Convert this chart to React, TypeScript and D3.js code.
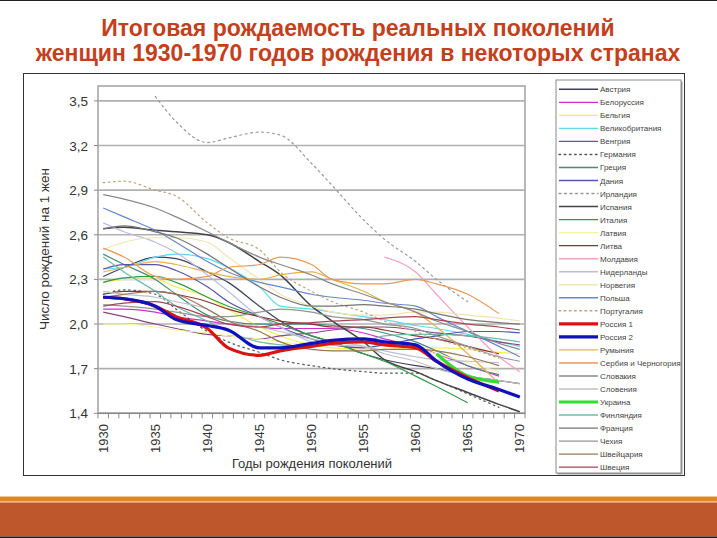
import React from "react";
import * as d3 from "d3";

// ---------- DATA ----------
const CATEGORIES = [
  1930, 1931, 1932, 1933, 1934, 1935, 1936, 1937, 1938, 1939, 1940, 1941, 1942, 1943,
  1944, 1945, 1946, 1947, 1948, 1949, 1950, 1951, 1952, 1953, 1954, 1955, 1956, 1957,
  1958, 1959, 1960, 1961, 1962, 1963, 1964, 1965, 1966, 1967, 1968, 1969, 1970,
];
const X_TICK_LABELS = ["1930", "1935", "1940", "1945", "1950", "1955", "1960", "1965", "1970"];
const Y_TICKS = [1.4, 1.7, 2.0, 2.3, 2.6, 2.9, 3.2, 3.5];
const GRID_YEARS = [1930, 1932, 1935, 1937, 1940, 1942, 1945, 1947, 1950, 1952, 1955, 1957, 1960, 1962, 1965, 1968, 1970];

const N = null;
const AUSTRIA = [2.32, 2.38, 2.45, 2.44, 2.35, 2.28, 2.12, 2.02, 1.92, 1.88, 1.8, 1.76, 1.72, 1.7, 1.65, 1.62, 1.6];
const BELARUS = [2.1, 2.1, 2.08, 2.05, 2.02, 2.0, 1.98, 1.97, 1.97, 1.97, 1.94, 1.9, 1.85, 1.8, 1.72, 1.65, N];
const BELGIUM = [2.28, 2.3, 2.3, 2.25, 2.18, 2.1, 1.98, 1.92, 1.86, 1.84, 1.83, 1.83, 1.84, 1.84, 1.83, 1.81, 1.8];
const UK = [2.37, 2.38, 2.45, 2.47, 2.44, 2.38, 2.25, 2.12, 2.1, 2.08, 2.05, 2.03, 1.99, 1.97, 1.93, 1.88, 1.85];
const HUNGARY = [2.08, 2.05, 2.0, 1.97, 1.93, 1.92, 1.9, 1.92, 1.94, 1.96, 1.98, 1.98, 1.96, 1.94, 1.92, 1.88, 1.86];
const GERMANY = [2.2, 2.23, 2.2, 2.1, 1.95, 1.88, 1.81, 1.76, 1.72, 1.7, 1.68, 1.67, 1.67, 1.62, 1.53, 1.44, N];
const GREECE = [2.47, 2.4, 2.3, 2.2, 2.06, 2.02, 2.0, 2.0, 2.0, 1.99, 1.97, 1.94, 1.88, 1.82, 1.72, 1.66, N];
const DENMARK = [2.37, 2.4, 2.4, 2.36, 2.25, 2.15, 2.05, 1.98, 1.9, 1.86, 1.84, 1.86, 1.9, 1.92, 1.95, 1.95, 1.94];
const IRELAND = [N, N, 3.53, 3.36, 3.22, 3.25, 3.29, 3.27, 3.08, 2.93, 2.7, 2.57, 2.42, 2.3, 2.15, N, N];
const SPAIN = [2.64, 2.65, 2.63, 2.62, 2.6, 2.55, 2.42, 2.33, 2.12, 2.02, 1.88, 1.76, 1.68, 1.62, 1.54, 1.46, 1.41];
const ITALY = [2.28, 2.31, 2.32, 2.28, 2.18, 2.12, 2.05, 2.0, 1.92, 1.88, 1.8, 1.75, 1.65, 1.58, 1.47, N, N];
const LATVIA = [2.0, 2.0, 1.98, 1.96, 1.94, 1.92, 1.9, 1.88, 1.86, 1.88, 1.9, 1.88, 1.84, 1.8, 1.74, 1.68, N];
const LITHUANIA = [2.2, 2.22, 2.22, 2.2, 2.15, 2.1, 2.05, 2.02, 2.0, 1.98, 1.98, 1.96, 1.92, 1.9, 1.85, 1.8, N];
const MOLDOVA = [N, N, N, N, N, N, N, N, N, N, N, 2.45, 2.35, 2.2, 1.98, 1.78, 1.68];
const NETHERLANDS = [2.68, 2.62, 2.55, 2.48, 2.33, 2.22, 2.05, 1.98, 1.88, 1.86, 1.85, 1.82, 1.78, 1.76, 1.75, 1.74, N];
const NORWAY = [2.5, 2.55, 2.58, 2.58, 2.55, 2.45, 2.3, 2.2, 2.12, 2.08, 2.06, 2.06, 2.08, 2.08, 2.06, 2.04, 2.02];
const POLAND = [2.78, 2.72, 2.63, 2.55, 2.42, 2.35, 2.28, 2.25, 2.2, 2.18, 2.16, 2.14, 2.12, 2.05, 1.95, 1.85, 1.78];
const PORTUGAL = [2.95, 2.96, 2.9, 2.86, 2.68, 2.58, 2.5, 2.35, 2.22, 2.15, 2.08, 2.02, 1.95, 1.9, 1.84, 1.77, N];
const RUSSIA1 = [2.18, 2.17, 2.12, 2.05, 1.97, 1.84, 1.79, 1.82, 1.85, 1.87, 1.88, 1.86, 1.84, 1.75, 1.64, 1.55, N];
const RUSSIA2 = [2.18, 2.17, 2.12, 2.03, 1.99, 1.96, 1.84, 1.84, 1.87, 1.89, 1.9, 1.88, 1.86, 1.75, 1.63, 1.56, 1.51];
const ROMANIA = [2.35, 2.38, 2.42, 2.4, 2.35, 2.32, 2.3, 2.33, 2.35, 2.3, 2.22, 2.15, 2.08, 1.98, 1.8, 1.6, N];
const SERBIA = [2.51, 2.45, 2.32, 2.3, 2.32, 2.38, 2.4, 2.45, 2.4, 2.3, 2.27, 2.27, 2.3, 2.27, 2.2, 2.07, N];
const SLOVAKIA = [2.87, 2.84, 2.78, 2.72, 2.62, 2.55, 2.45, 2.4, 2.33, 2.27, 2.2, 2.15, 2.08, 2.02, 1.95, 1.87, 1.83];
const SLOVENIA = [2.22, 2.2, 2.18, 2.15, 2.1, 2.02, 1.98, 1.95, 1.9, 1.88, 1.85, 1.8, 1.75, 1.7, 1.65, 1.62, 1.6];
const UKRAINE = [N, N, N, N, N, N, N, N, N, N, N, N, N, 1.8, 1.65, 1.61, N];
const FINLAND = [2.45, 2.35, 2.22, 2.12, 2.02, 1.95, 1.88, 1.86, 1.85, 1.87, 1.88, 1.92, 1.93, 1.93, 1.92, 1.9, 1.88];
const FRANCE = [2.64, 2.66, 2.62, 2.58, 2.47, 2.38, 2.25, 2.18, 2.12, 2.12, 2.13, 2.12, 2.1, 2.07, 2.03, 2.01, 2.0];
const CZECH = [2.13, 2.12, 2.1, 2.08, 2.05, 2.05, 2.08, 2.1, 2.08, 2.05, 2.03, 2.0, 1.97, 1.92, 1.85, 1.78, 1.75];
const SWITZERLAND = [2.18, 2.2, 2.22, 2.2, 2.1, 2.02, 1.95, 1.88, 1.83, 1.82, 1.82, 1.83, 1.83, 1.82, 1.78, 1.72, N];
const SWEDEN = [2.12, 2.14, 2.15, 2.12, 2.05, 2.0, 1.98, 2.0, 2.01, 2.02, 2.03, 2.04, 2.05, 2.03, 2.0, 1.98, 1.96];

const SERIES_NAMES = [
  "Австрия", "Белоруссия", "Бельгия", "Великобритания", "Венгрия", "Германия", "Греция", "Дания",
  "Ирландия", "Испания", "Италия", "Латвия", "Литва", "Молдавия", "Нидерланды", "Норвегия", "Польша",
  "Португалия", "Россия 1", "Россия 2", "Румыния", "Сербия и Черногория", "Словакия", "Словения",
  "Украина", "Финляндия", "Франция", "Чехия", "Швейцария", "Швеция",
];
const SERIES_VALUES = [
  AUSTRIA, BELARUS, BELGIUM, UK, HUNGARY, GERMANY, GREECE, DENMARK, IRELAND, SPAIN, ITALY, LATVIA,
  LITHUANIA, MOLDOVA, NETHERLANDS, NORWAY, POLAND, PORTUGAL, RUSSIA1, RUSSIA2, ROMANIA, SERBIA,
  SLOVAKIA, SLOVENIA, UKRAINE, FINLAND, FRANCE, CZECH, SWITZERLAND, SWEDEN,
];

// ---------- STYLES ----------
const COLORS = [
  "#3e3e5e", "#cc33cc", "#f2f24a", "#5fd8ea", "#884488", "#555555", "#4a8a7a", "#5555aa",
  "#9a9a9a", "#444444", "#339944", "#f6f4a0", "#883333", "#f5a0bb", "#bcbce0", "#eee6b4", "#6688cc",
  "#c0a070", "#dd1111", "#1111bb", "#e8b050", "#e89858", "#8a8a8a", "#c0c0c0",
  "#33dd33", "#6cbcac", "#747474", "#959595", "#997755", "#aa4455",
];
const DASH: Record<string, string> = {
  "Германия": "1.6 3.6",
  "Ирландия": "2 3.5",
  "Португалия": "1.6 3.6",
};
const WIDTH: Record<string, number> = {
  "Россия 1": 3.2,
  "Россия 2": 3.2,
  "Украина": 3.2,
  "Испания": 1.5,
};
const DRAW_ORDER_LAST = ["Украина", "Россия 1", "Россия 2"];

const FONT = "'Liberation Sans', Arial, sans-serif";

export default function App() {
  const W = 717;
  const H = 538;
  const plot = { left: 98, right: 525, top: 86, bottom: 413.3 };

  const xBand = d3.scaleBand<number>().domain(CATEGORIES).range([plot.left, plot.right]).paddingInner(0).paddingOuter(0);
  const bw = xBand.bandwidth();
  const xPos = (yr: number) => (xBand(yr) as number) + bw / 2;
  const y = d3.scaleLinear().domain([1.4, 3.6]).range([plot.bottom, plot.top]);

  const line = d3
    .line<number | null>()
    .defined((d) => d != null)
    .x((_, i) => xPos(GRID_YEARS[i]))
    .y((d) => y(d as number))
    .curve(d3.curveMonotoneX);

  const order = SERIES_NAMES.map((_, i) => i)
    .filter((i) => !DRAW_ORDER_LAST.includes(SERIES_NAMES[i]))
    .concat(DRAW_ORDER_LAST.map((n) => SERIES_NAMES.indexOf(n)));

  const legend = { x: 556, y: 80, w: 125, h: 393, row0: 89.3, step: 13.03 };

  const boundaries = CATEGORIES.map((c) => xBand(c) as number).concat([plot.right]);

  return (
    <svg width={W} height={H} style={{ position: "absolute", left: 0, top: 0, display: "block" }} fontFamily={FONT}>
      <rect x={0} y={0} width={W} height={H} fill="#ffffff" />
      <rect x={0} y={0} width={W} height={1} fill="#222" />

      {/* title */}
      <text x={358} y={36} textAnchor="middle" fontSize={23} fontWeight="bold" fill="#c4401c">
        Итоговая рождаемость реальных поколений
      </text>
      <text x={358} y={61} textAnchor="middle" fontSize={23} fontWeight="bold" fill="#c4401c">
        женщин 1930-1970 годов рождения в некоторых странах
      </text>

      {/* chart frame */}
      <rect x={23.5} y={73.5} width={661} height={402} fill="#fff" stroke="#333" strokeWidth={1} />

      {/* plot area */}
      <rect x={plot.left} y={plot.top} width={plot.right - plot.left} height={plot.bottom - plot.top} fill="#fff" stroke="#a0a0a0" strokeWidth={1.5} />
      {Y_TICKS.map((t) => (
        <g key={t}>
          {t > 1.4 && (
            <line x1={plot.left} x2={plot.right} y1={y(t)} y2={y(t)} stroke="#b0b0b0" strokeWidth={1.6} />
          )}
          <line x1={plot.left - 4} x2={plot.left} y1={y(t)} y2={y(t)} stroke="#888" strokeWidth={1} />
          <text x={88} y={y(t) + 5} textAnchor="end" fontSize={13.5} fill="#333">
            {t.toFixed(1).replace(".", ",")}
          </text>
        </g>
      ))}
      {/* x axis */}
      <line x1={plot.left} x2={plot.right} y1={plot.bottom} y2={plot.bottom} stroke="#888" strokeWidth={1.5} />
      {boundaries.map((bx, i) => (
        <line key={i} x1={bx} x2={bx} y1={plot.bottom} y2={plot.bottom + 5} stroke="#888" strokeWidth={1} />
      ))}
      {X_TICK_LABELS.map((lbl) => {
        const cx = xPos(+lbl);
        return (
          <text key={lbl} transform={`translate(${cx + 4.5},424) rotate(-90)`} textAnchor="end" fontSize={13} fill="#333">
            {lbl}
          </text>
        );
      })}
      <text x={312} y={468} textAnchor="middle" fontSize={13} fill="#333">
        Годы рождения поколений
      </text>
      <text transform={`translate(49,249) rotate(-90)`} textAnchor="middle" fontSize={13.5} fill="#333">
        Число рождений на 1 жен
      </text>

      {/* series */}
      <g>
        {order.map((i) => {
          const name = SERIES_NAMES[i];
          return (
            <path
              key={name}
              d={line(SERIES_VALUES[i]) || ""}
              fill="none"
              stroke={COLORS[i]}
              strokeWidth={WIDTH[name] ?? 1.2}
              strokeDasharray={DASH[name]}
              strokeLinecap={DASH[name] ? "round" : "butt"}
              strokeLinejoin="round"
            />
          );
        })}
      </g>

      {/* legend */}
      <rect x={legend.x + 1.5} y={legend.y + 1.5} width={legend.w} height={legend.h} fill="#999" />
      <rect x={legend.x} y={legend.y} width={legend.w} height={legend.h} fill="#fff" stroke="#8a8a8a" strokeWidth={1} />
      {SERIES_NAMES.map((name, i) => {
        const ly = legend.row0 + i * legend.step;
        return (
          <g key={name}>
            <line
              x1={559}
              x2={598}
              y1={ly}
              y2={ly}
              stroke={COLORS[i]}
              strokeWidth={WIDTH[name] ?? 1.4}
              strokeDasharray={DASH[name]}
              strokeLinecap={DASH[name] ? "round" : "butt"}
            />
            <text x={600} y={ly + 3} fontSize={8} fill="#444">
              {name}
            </text>
          </g>
        );
      })}

      {/* bottom decorative bar */}
      <rect x={0} y={496} width={W} height={1} fill="#f2c890" />
      <rect x={0} y={497} width={W} height={4.5} fill="#e08424" />
      <rect x={0} y={501.5} width={W} height={1} fill="#f0b878" />
      <rect x={0} y={502.5} width={W} height={34} fill="#be582c" />
      <rect x={0} y={536.5} width={W} height={1.5} fill="#2a1a10" />
    </svg>
  );
}
